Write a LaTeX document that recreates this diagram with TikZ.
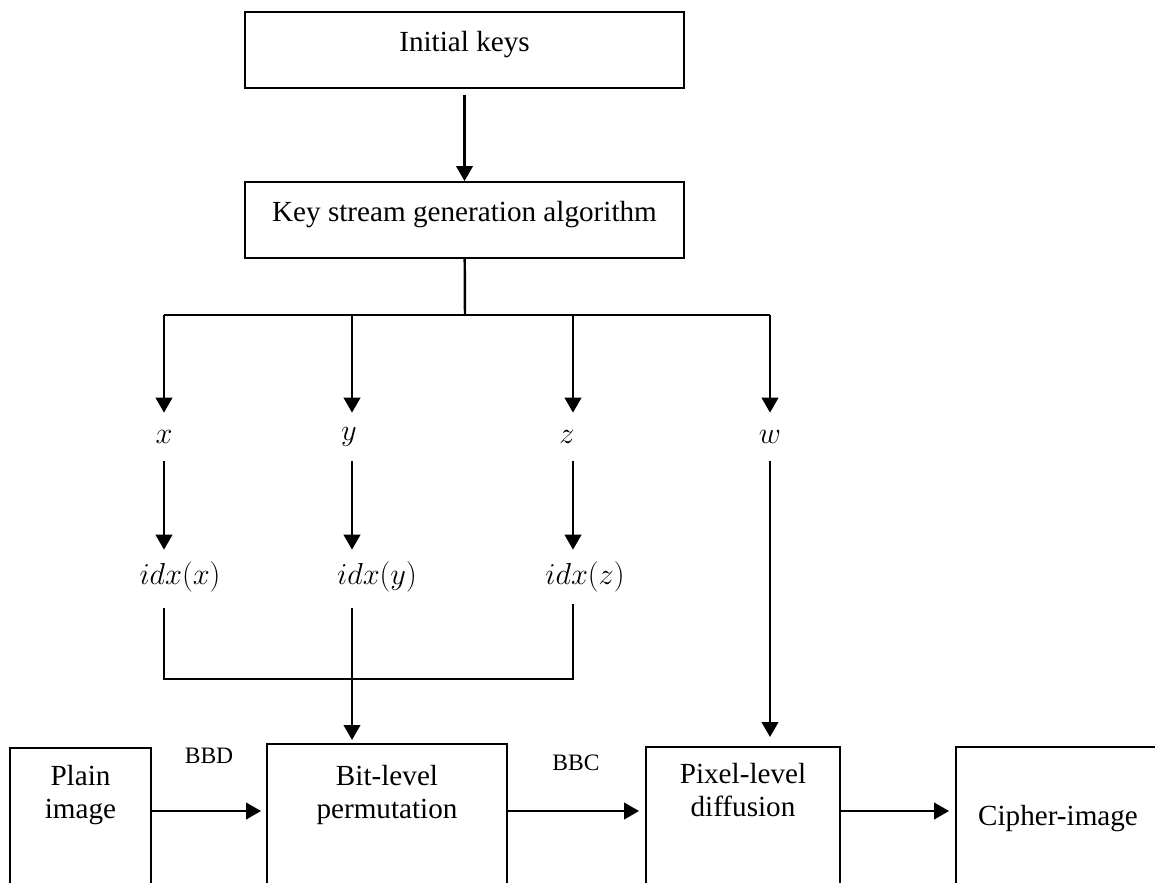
\documentclass[tikz,border=0pt]{standalone}
\usepackage{fontspec}
\setmainfont{Liberation Serif}
\usetikzlibrary{positioning, arrows.meta}

\tikzset{
  keybox/.style={draw, line width=1.1pt, minimum width=8.78cm, minimum height=1.52cm,
    inner sep=0pt, text height=11.6pt, text depth=9.7pt},
  openbox/.style={draw, line width=1.1pt, anchor=north, inner sep=0pt, text depth=60pt},
  var/.style={inner sep=0pt, minimum height=0.96cm},
  idx/.style={inner sep=0pt, minimum height=1.08cm},
  link/.style={line width=1.4pt},
  tag/.style={font=\fontsize{13.4}{16}\selectfont},
}

\begin{document}
\begin{tikzpicture}[x=0.02cm, y=-0.02cm, >={Triangle[length=0.3cm, width=0.33cm]},
    font=\fontsize{16.6}{19}\selectfont]
  \useasboundingbox (0,0) rectangle (1155,882);
  \clip (0,0) rectangle (1155,882);

  % key stream part
  \node[keybox] (init) at (464.5,50) {Initial keys};
  \node[keybox] (ksg) at (464.5,220) {Key stream generation algorithm};
  \draw[link, ->, shorten <=0.12cm] (init) -- (ksg);

  \coordinate (split) at (465,315);
  \coordinate (bw) at (770,315);
  \draw[link] (ksg) -- (split);

  % the three permutation sequences
  \foreach \v/\ax/\lx/\ix in {x/164/164/180, y/352/349/377, z/573/567/585} {
    \coordinate (b\v) at (\ax,315);
    \node[var] (\v) at (\lx,437) {$\v$};
    \node[idx] (idx\v) at (\ix,577) {$idx(\v)$};
    \draw[link, ->] (b\v) -- (b\v |- \v.north);
    \draw[link, ->] (b\v |- \v.south) -- (b\v |- idx\v.north);
  }
  \draw[link] (bx) -- (bw);

  \node[var] (w) at (770,437) {$w$};
  \draw[link, ->] (bw) -- (w);

  % image pipeline
  \node[openbox, minimum width=2.82cm, text height=31.4pt] (plain) at (80.5,747)
    {\begin{tabular}{@{}c@{}}Plain\\image\end{tabular}};
  \node[openbox, minimum width=4.8cm, text height=33.7pt] (bit) at (387,743)
    {\begin{tabular}{@{}c@{}}Bit-level\\permutation\end{tabular}};
  \node[openbox, minimum width=3.88cm, text height=30.6pt] (pixel) at (743,746)
    {\begin{tabular}{@{}c@{}}Pixel-level\\diffusion\end{tabular}};
  \node[openbox, minimum width=4.08cm, text height=44.8pt] (cipher) at (1058,746)
    {Cipher-image};

  \node[tag] (bbd) at (209,756) {BBD};
  \node[tag] (bbc) at (576,763) {BBC};

  \coordinate (merge) at (352,679);
  \draw[link, shorten <=0.08cm] (bx |- idxx.south) -- (bx |- merge) -- (bz |- merge) -- (bz |- idxz.south);
  \draw[link, ->, shorten <=0.08cm, shorten >=0.06cm] (by |- idxy.south) -- (by |- bit.north);
  \draw[link, ->, shorten >=0.18cm] (w) -- (w |- pixel.north);

  \coordinate (flow) at (0,811);
  \draw[link, ->, shorten >=0.1cm] (plain.east |- flow) -- (bit.west |- flow);
  \draw[link, ->, shorten >=0.12cm] (bit.east |- flow) -- (pixel.west |- flow);
  \draw[link, ->, shorten >=0.12cm] (pixel.east |- flow) -- (cipher.west |- flow);
\end{tikzpicture}
\end{document}
